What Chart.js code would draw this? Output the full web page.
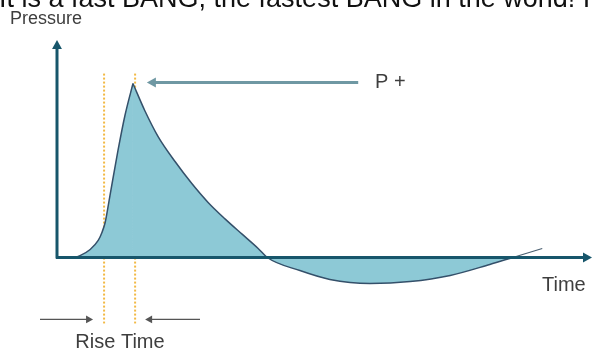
<!DOCTYPE html>
<html>
<head>
<meta charset="utf-8">
<script src="https://cdn.jsdelivr.net/npm/chart.js@4"></script>
<style>
  body { margin: 0; background: #fff; }
  #wrap { width: 594px; height: 352px; }
</style>
</head>
<body>
<div id="wrap"><canvas id="myChart" width="594" height="352"></canvas></div>
<script>
// pressure pulse (time 0..100, pressure baseline 0, peak 100)
const riseTime = [0, 1.5, 3.0, 4.3, 6.2, 7.7, 8.4, 9.0, 9.9, 11.4, 12.7, 14.2];
const risePressure = [0, 0, 0, 1.1, 4.6, 9.8, 14.4, 20.1, 35.6, 61.5, 81.6, 100];
const fallTime = [14.2, 16.4, 18.9, 22.1, 25.2, 28.2, 31.4, 34.6, 37.6, 39.3, 45.4, 51.0, 58.5, 66.0, 73.5, 80.9, 85.2];
const fallPressure = [100, 84.5, 69.5, 55.0, 42.5, 31.8, 22.2, 13.4, 5.2, 0, -7.5, -12.6, -14.9, -13.8, -10.3, -4.0, 0];
const tailTime = [85.2, 90.7];
const tailPressure = [0, 5.2];

const riseStart = 8.8;
const riseEnd = 14.6;
const markerTop = 105.7;
const markerBottom = -37.9;

const peakArrowFrom = 56.3;
const peakArrowTo = 16.8;
const peakLevel = 100.6;

const titleText = 'It is a fast BANG, the fastest BANG in the world! I';

function pts(xs, ys) {
    return xs.map((x, i) => ({ x: x, y: ys[i] }));
}

function arrow(ctx, x1, y1, x2, y2, color, width, head) {
    const a = Math.atan2(y2 - y1, x2 - x1);
    ctx.save();
    ctx.strokeStyle = color;
    ctx.fillStyle = color;
    ctx.lineWidth = width;
    ctx.beginPath();
    ctx.moveTo(x1, y1);
    ctx.lineTo(x2 - Math.cos(a) * head * 0.8, y2 - Math.sin(a) * head * 0.8);
    ctx.stroke();
    ctx.beginPath();
    ctx.moveTo(x2, y2);
    ctx.lineTo(x2 - head * Math.cos(a) + head * 0.55 * Math.sin(a), y2 - head * Math.sin(a) - head * 0.55 * Math.cos(a));
    ctx.lineTo(x2 - head * Math.cos(a) - head * 0.55 * Math.sin(a), y2 - head * Math.sin(a) + head * 0.55 * Math.cos(a));
    ctx.closePath();
    ctx.fill();
    ctx.restore();
}

const decor = {
    id: 'decor',
    afterDatasetsDraw(chart) {
        const ctx = chart.ctx;
        const xs = chart.scales.x;
        const ys = chart.scales.y;
        const x0 = xs.getPixelForValue(0);
        const y0 = ys.getPixelForValue(0);
        const axisColor = '#17566b';

        // axes
        arrow(ctx, x0, y0 + 1, x0, ys.top, axisColor, 3, 9);
        arrow(ctx, x0 - 1, y0, xs.right, y0, axisColor, 3, 9);

        // P+ arrow
        const py = ys.getPixelForValue(peakLevel);
        arrow(ctx, xs.getPixelForValue(peakArrowFrom), py, xs.getPixelForValue(peakArrowTo), py, '#6f98a3', 3, 9);

        // rise time arrows
        const ry = ys.getPixelForValue(markerBottom) - 4;
        arrow(ctx, 40, ry, xs.getPixelForValue(riseStart) - 11, ry, '#555', 1.2, 7);
        arrow(ctx, 200, ry, xs.getPixelForValue(riseEnd) + 10, ry, '#555', 1.2, 7);

        // texts
        ctx.save();
        ctx.fillStyle = '#3e3e3e';
        ctx.textBaseline = 'middle';
        ctx.font = '18px "Liberation Sans", Arial, sans-serif';
        ctx.fillText('Pressure', 10, 19);
        ctx.font = '20px "Liberation Sans", Arial, sans-serif';
        ctx.fillText('P +', 375, py);
        ctx.fillText('Time', 542, 285);
        ctx.textAlign = 'center';
        ctx.fillText('Rise Time', 120, 342);

        ctx.textAlign = 'left';
        ctx.textBaseline = 'alphabetic';
        ctx.fillStyle = '#111';
        let size = 24;
        ctx.font = size + 'px "Liberation Sans", Arial, sans-serif';
        const w = ctx.measureText(titleText).width;
        size = size * 592 / w;
        ctx.font = size.toFixed(1) + 'px "Liberation Sans", Arial, sans-serif';
        ctx.fillText(titleText, -1, 7);
        ctx.restore();
    }
};

const curveStyle = {
    showLine: true,
    fill: 'origin',
    backgroundColor: '#8dc9d6',
    borderColor: '#34506a',
    borderWidth: 1.5,
    pointRadius: 0,
    cubicInterpolationMode: 'monotone'
};

const markerStyle = {
    showLine: true,
    borderColor: '#f2b945',
    borderWidth: 2,
    borderDash: [2, 2],
    pointRadius: 0,
    clip: false
};

new Chart(document.getElementById('myChart'), {
    type: 'scatter',
    data: {
        datasets: [
            Object.assign({ data: pts(riseTime, risePressure) }, curveStyle),
            Object.assign({ data: pts(fallTime, fallPressure) }, curveStyle),
            {
                data: pts(tailTime, tailPressure),
                showLine: true,
                fill: false,
                borderColor: '#4a5f70',
                borderWidth: 1.2,
                pointRadius: 0
            },
            Object.assign({ data: [{ x: riseStart, y: markerTop }, { x: riseStart, y: markerBottom }] }, markerStyle),
            Object.assign({ data: [{ x: riseEnd, y: markerTop }, { x: riseEnd, y: markerBottom }] }, markerStyle)
        ]
    },
    options: {
        responsive: false,
        animation: false,
        devicePixelRatio: 1,
        layout: { padding: { left: 57, right: 2, top: 40, bottom: 51 } },
        scales: {
            x: { type: 'linear', min: 0, max: 100, display: false },
            y: { type: 'linear', min: -25, max: 125, display: false }
        },
        plugins: {
            legend: { display: false },
            tooltip: { enabled: false }
        }
    },
    plugins: [decor]
});
</script>
</body>
</html>
